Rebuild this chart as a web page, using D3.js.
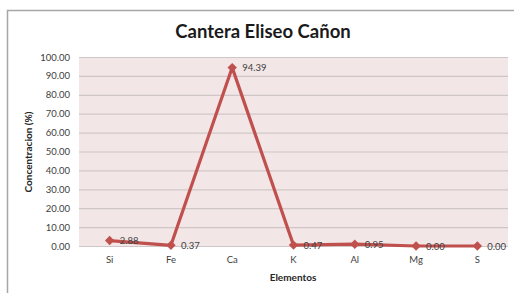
<!DOCTYPE html>
<html>
<head>
<meta charset="utf-8">
<script src="https://cdn.jsdelivr.net/npm/d3@7"></script>
<style>
  body { margin: 0; background: #fff; }
  svg { display: block; font-family: Lato, "Open Sans", sans-serif; }
</style>
</head>
<body>
<svg id="chart" width="514" height="293"></svg>
<script>
// data
var elementos = ["Si", "Fe", "Ca", "K", "Al", "Mg", "S"];
var concentracion = [2.88, 0.37, 94.39, 0.47, 0.95, 0.00, 0.00];
var yTicks = [0, 10, 20, 30, 40, 50, 60, 70, 80, 90, 100];

var svg = d3.select("#chart");
var margin = { left: 79, top: 57, right: 6, bottom: 47 };
var W = 514, H = 293;

// outer frame (runs off right & bottom like the screenshot)
svg.append("rect")
  .attr("x", 7.5).attr("y", 10.5).attr("width", 520).attr("height", 300)
  .style("fill", "#fff").style("stroke", "#a6a6a6").style("stroke-width", 1.5);

var x = d3.scaleBand().domain(elementos).range([margin.left, W - margin.right]);
var y = d3.scaleLinear().domain([0, 100]).range([H - margin.bottom, margin.top]);

// plot area
svg.append("rect")
  .attr("x", margin.left).attr("y", y(100))
  .attr("width", W - margin.right - margin.left).attr("height", y(0) - y(100))
  .style("fill", "#f2e6e6");

// gridlines
svg.append("g").selectAll("line").data(yTicks).join("line")
  .attr("x1", margin.left).attr("x2", W - margin.right)
  .attr("y1", function(d){ return y(d) + 0.5; }).attr("y2", function(d){ return y(d) + 0.5; })
  .style("stroke", "#cfc7c7").style("stroke-width", 1.2);

// y axis
var yAxis = svg.append("g").attr("transform", "translate(" + margin.left + ",0)")
  .call(d3.axisLeft(y).tickValues(yTicks).tickSize(0).tickPadding(9).tickFormat(d3.format(".2f")));
yAxis.select(".domain").remove();
yAxis.selectAll("text").style("font-size", "9.5px").style("fill", "#404040").style("font-family", "Lato, sans-serif");

// x axis
var xAxis = svg.append("g").attr("transform", "translate(0," + y(0) + ")")
  .call(d3.axisBottom(x).tickSize(0).tickPadding(10));
xAxis.select(".domain").remove();
xAxis.selectAll("text").style("font-size", "9.5px").style("fill", "#404040").style("font-family", "Lato, sans-serif");

// titles
svg.append("text").attr("x", 263).attr("y", 38).attr("text-anchor", "middle")
  .style("font-size", "18.5px").style("font-weight", "bold").style("fill", "#1a1a1a")
  .text("Cantera Eliseo Cañon");
svg.append("text").attr("x", 293).attr("y", 281).attr("text-anchor", "middle")
  .style("font-size", "10px").style("font-weight", "bold").style("fill", "#262626")
  .text("Elementos");
svg.append("text").attr("transform", "translate(32,152) rotate(-90)").attr("text-anchor", "middle")
  .style("font-size", "10px").style("font-weight", "bold").style("fill", "#262626")
  .text("Concentracion (%)");

// series
var pts = elementos.map(function(e, i){ return { k: e, v: concentracion[i] }; });
var cx = function(d){ return x(d.k) + x.bandwidth() / 2; };

svg.append("path").datum(pts)
  .attr("d", d3.line().x(cx).y(function(d){ return y(d.v); }))
  .style("fill", "none").style("stroke", "#c0504d").style("stroke-width", 3.2).style("stroke-linejoin", "round");

// diamond markers: rotated squares
svg.append("g").selectAll("path").data(pts).join("path")
  .attr("d", d3.symbol().type(d3.symbolSquare).size(44))
  .attr("transform", function(d){ return "translate(" + cx(d) + "," + y(d.v) + ") rotate(45)"; })
  .style("fill", "#c0504d");

svg.append("g").selectAll("text").data(pts).join("text")
  .attr("x", function(d){ return cx(d) + 10; })
  .attr("y", function(d){ return y(d.v) + 3.5; })
  .style("font-size", "9.5px").style("fill", "#404040")
  .text(function(d){ return d3.format(".2f")(d.v); });
</script>
</body>
</html>
